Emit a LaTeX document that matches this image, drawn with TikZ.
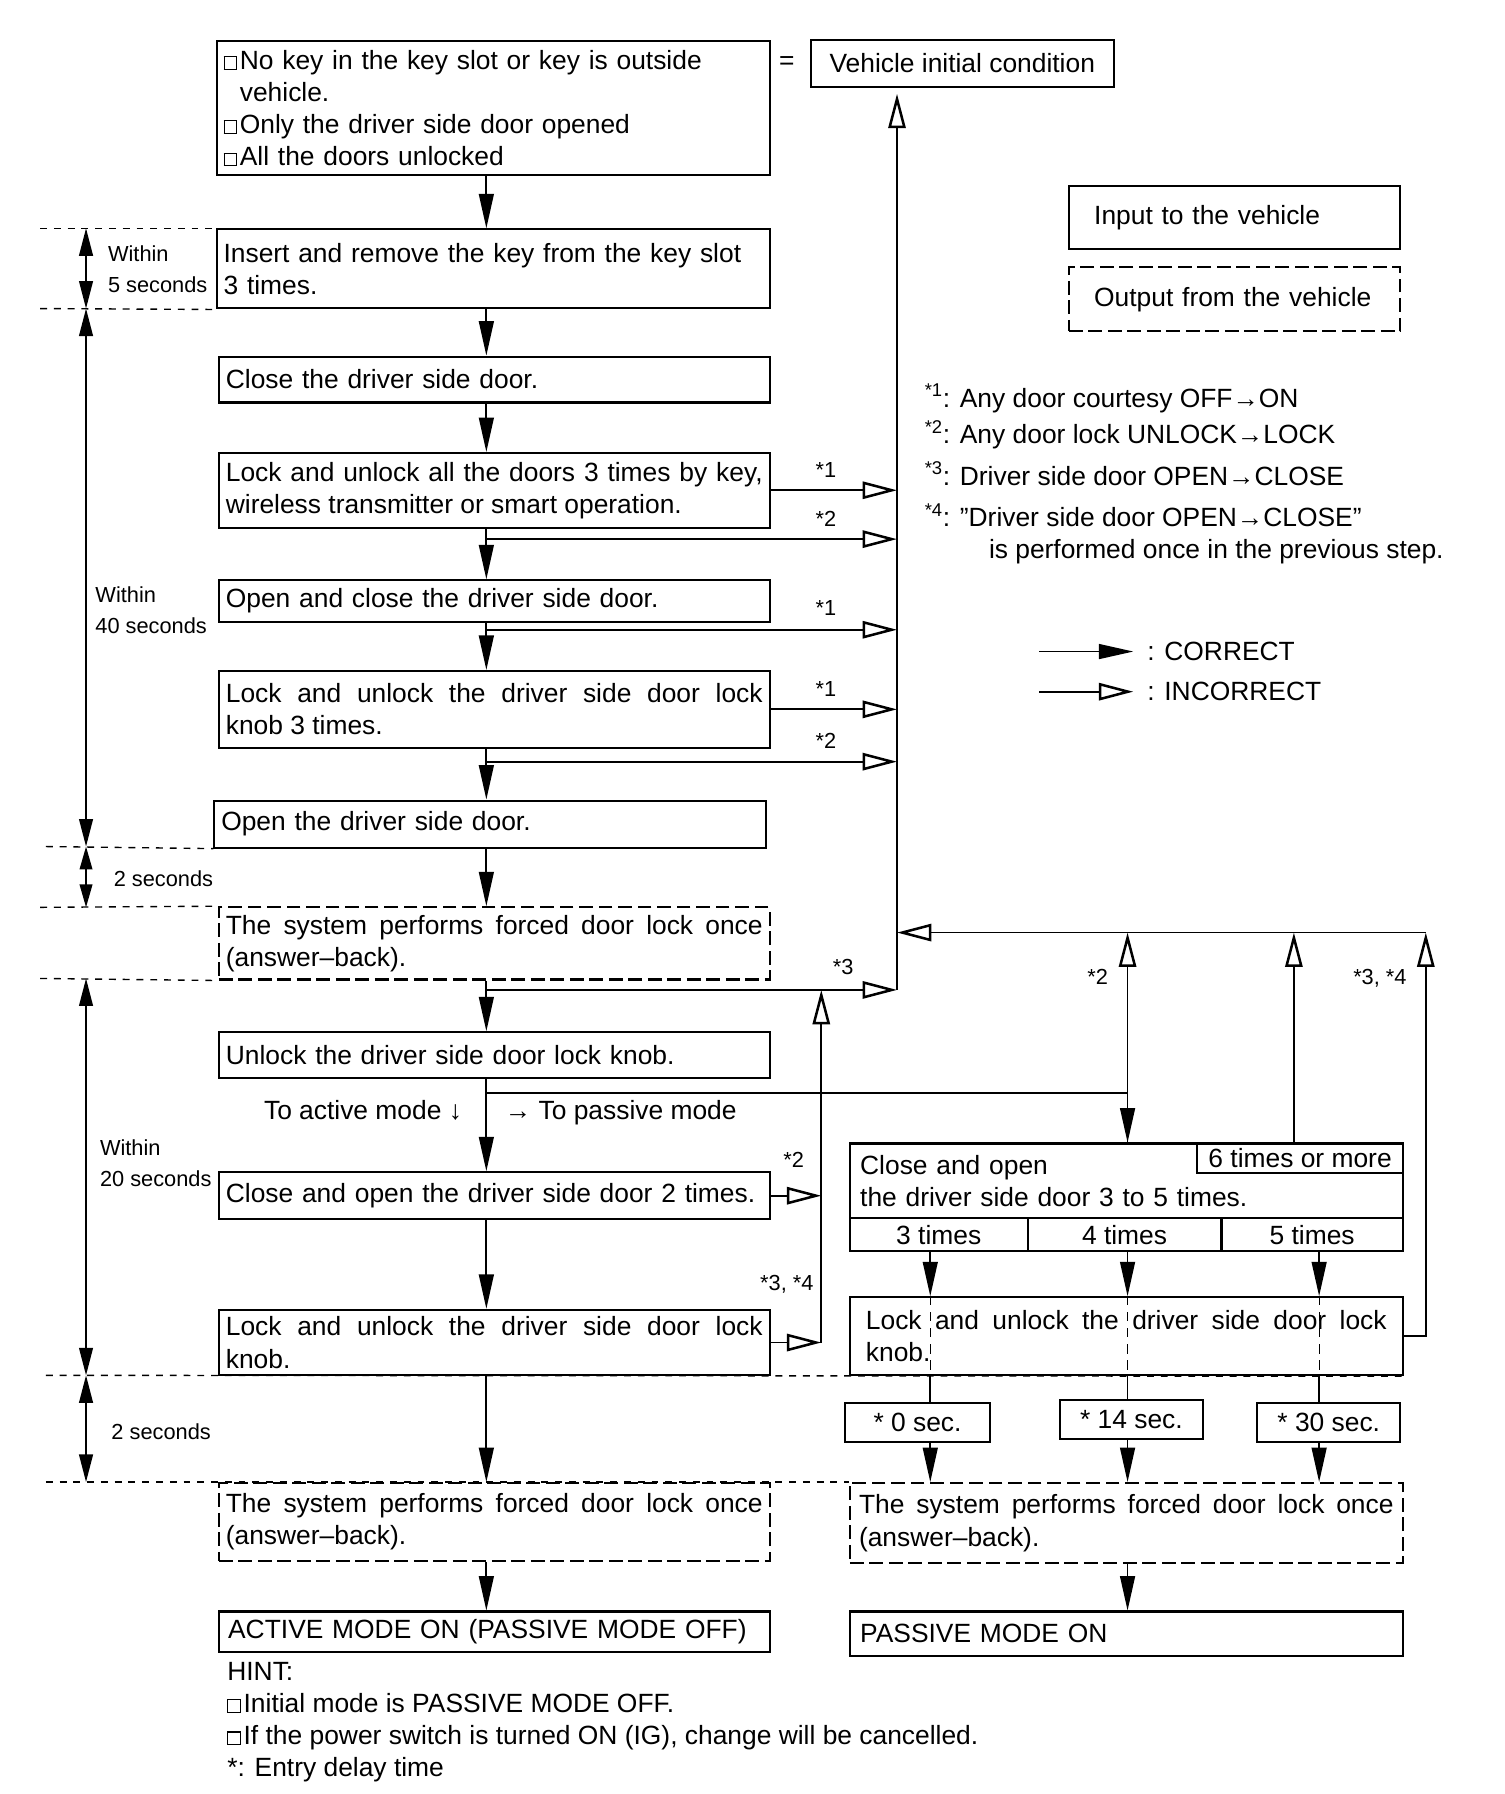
\documentclass[tikz,border=0pt]{standalone}
\usepackage{fontspec}
\setmainfont{Liberation Sans}
\usetikzlibrary{arrows.meta,calc}
\newcommand\fs{\fontsize{23}{28}\selectfont}
\newcommand\fsm{\fontsize{19}{22}\selectfont}
\newcommand\sqb{\raisebox{0.5pt}{\setlength{\fboxsep}{0pt}\setlength{\fboxrule}{0.9pt}\fbox{\rule{0pt}{0.44em}\hspace{0.44em}}}\hspace{0.1em}}
\begin{document}
\begin{tikzpicture}[x=1pt,y=-1pt,
 bx/.style={draw, line width=1.8pt, anchor=north west, inner xsep=6pt, inner ysep=0pt, font=\fs, align=left},
 dbx/.style={bx, dash pattern=on 12pt off 5pt},
 jbx/.style={bx, align=justify},
 cbx/.style={draw, line width=1.8pt, anchor=north west, inner sep=0pt, font=\fs, align=center},
 ln/.style={line width=1.5pt},
 fl/.style={ln, -{Triangle[length=30pt,width=13pt]}},
 oa/.style={ln, -{Triangle[open,length=30pt,width=15pt,line width=2.2pt]}},
 darr/.style={line width=1.6pt, {Triangle[length=24pt,width=12pt]}-{Triangle[length=24pt,width=12pt]}},
 sdarr/.style={line width=1.6pt, {Triangle[length=20pt,width=11pt]}-{Triangle[length=20pt,width=11pt]}},
 guide/.style={line width=1.2pt, dash pattern=on 6pt off 6pt},
 idash/.style={line width=1pt, dash pattern=on 8pt off 6pt},
 lbl/.style={font=\fsm, inner sep=0pt},
 txt/.style={font=\fs, inner sep=0pt, anchor=base west},
 stxt/.style={font=\fsm, inner sep=0pt, anchor=base west},
]
\fill[white] (0,0) rectangle (1311.3,1564);
\useasboundingbox (0,0) rectangle (1311.3,1564);

% columns
\coordinate (m) at (424,0);
\coordinate (c7) at (782,0);
\coordinate (c6) at (716,0);
\coordinate (q1) at (811,0);
\coordinate (q2) at (983,0);
\coordinate (q3) at (1150,0);
\coordinate (q4) at (1128,0);
\coordinate (q5) at (1243,0);

% left column boxes
\node[bx, text width=470pt, minimum height=117pt] (A) at (188,35) {\sqb No key in the key slot or key is outside\\\hphantom{\sqb}vehicle.\\\sqb Only the driver side door opened\\\sqb All the doors unlocked};
\node[cbx, minimum width=264pt, minimum height=41pt] (V) at (706,34) {Vehicle initial condition};
\node[font=\fs, inner sep=0pt] (eq) at (686,55) {=};

\node[bx, text width=470pt, minimum height=69pt] (B) at (188,199) {Insert and remove the key from the key slot\\3 times.};
\node[bx, text width=468pt, minimum height=40pt] (C) at (190,310) {Close the driver side door.};
\node[jbx, text width=468pt, minimum height=65pt] (D) at (190,394) {Lock and unlock all the doors 3 times by key,\linebreak wireless transmitter or smart operation.};
\node[bx, text width=468pt, minimum height=36pt] (E) at (190,505) {Open and close the driver side door.};
\node[jbx, text width=468pt, minimum height=67pt] (F) at (190,584) {Lock and unlock the driver side door lock\linebreak knob 3 times.};
\node[bx, text width=469pt, minimum height=41pt] (G) at (186,697) {Open the driver side door.};
\node[dbx, align=justify, text width=468pt, minimum height=63pt] (H) at (190,790) {The system performs forced door lock once\linebreak (answer–back).};
\node[bx, text width=468pt, minimum height=40pt] (I) at (190,899) {Unlock the driver side door lock knob.};
\node[bx, text width=468pt, minimum height=41pt] (J) at (190,1021) {Close and open the driver side door 2 times.};
\node[jbx, text width=468pt, minimum height=57pt] (K) at (190,1141) {Lock and unlock the driver side door lock\linebreak knob.};
\node[dbx, align=justify, text width=468pt, minimum height=68pt] (L) at (190,1292) {The system performs forced door lock once\linebreak (answer–back).};
\node[bx, inner xsep=8pt, text width=464pt, minimum height=35pt] (M) at (190,1404) {ACTIVE MODE ON (PASSIVE MODE OFF)};

% right column
\node[bx, inner xsep=9pt, text width=464pt, minimum height=65pt] (P1) at (740,996) {Close and open\\the driver side door 3 to 5 times.};
\node[cbx, minimum width=179pt, minimum height=26pt] (six) at (1043,996) {6 times or more};
\node[cbx, minimum width=155pt, minimum height=29pt] (r1) at (740,1061) {3 times};
\node[cbx, minimum width=169pt, minimum height=29pt] (r2) at (895,1061) {4 times};
\node[cbx, minimum width=158pt, minimum height=29pt] (r3) at (1064,1061) {5 times};
\node[jbx, inner xsep=14pt, text width=454pt, minimum height=68pt] (P2) at (740,1130) {Lock and unlock the driver side door lock\linebreak knob.};
\node[cbx, minimum width=126pt, minimum height=34pt] (s1) at (736,1222) {* 0 sec.};
\node[cbx, minimum width=125pt, minimum height=34pt] (s2) at (923,1220) {* 14 sec.};
\node[cbx, minimum width=125pt, minimum height=34pt] (s3) at (1095,1222) {* 30 sec.};
\node[dbx, align=justify, inner xsep=8pt, text width=466pt, minimum height=70pt] (P3) at (740,1292) {The system performs forced door lock once\linebreak (answer–back).};
\node[bx, inner xsep=9pt, text width=464pt, minimum height=39pt] (P4) at (740,1404) {PASSIVE MODE ON};

% legend boxes
\node[bx, inner xsep=22pt, text width=245pt, minimum height=55pt] (in) at (931,161) {Input to the vehicle};
\node[dbx, inner xsep=22pt, text width=245pt, minimum height=56pt] (out) at (931,232) {Output from the vehicle};

% footnotes
\node[txt] (f1) at (806,355) {\textsuperscript{*1}: Any door courtesy OFF→ON};
\node[txt] (f2) at (806,387) {\textsuperscript{*2}: Any door lock UNLOCK→LOCK};
\node[txt] (f3) at (806,423) {\textsuperscript{*3}: Driver side door OPEN→CLOSE};
\node[txt] (f4) at (806,459) {\textsuperscript{*4}: "Driver side door OPEN→CLOSE”};
\node[txt] (f5) at (862,487) {is performed once in the previous step.};

% legend arrows
\coordinate (la1) at (906,568); \coordinate (lb1) at (988,568);
\draw[fl] (la1) -- (lb1);
\node[txt] (cor) at (1000,576) {: CORRECT};
\coordinate (la2) at (906,603); \coordinate (lb2) at (988,603);
\draw[oa] (la2) -- (lb2);
\node[txt] (inc) at (1000,611) {: INCORRECT};

% main flow
\draw[fl] (A.south -| m) -- (B.north -| m);
\draw[fl] (B.south -| m) -- (C.north -| m);
\draw[fl] (C.south -| m) -- (D.north -| m);
\draw[fl] (D.south -| m) -- (E.north -| m);
\draw[fl] (E.south -| m) -- (F.north -| m);
\draw[fl] (F.south -| m) -- (G.north -| m);
\draw[fl] (G.south -| m) -- (H.north -| m);
\draw[fl] (H.south -| m) -- (I.north -| m);
\draw[fl] (I.south -| m) -- (J.north -| m);
\draw[fl] (J.south -| m) -- (K.north -| m);
\draw[fl] (K.south -| m) -- (L.north -| m);
\draw[fl] (L.south -| m) -- (M.north -| m);

% branch points
\coordinate (b1) at (424,470);
\coordinate (b2) at (424,549);
\coordinate (b3) at (424,664);
\coordinate (b4) at (424,863);
\coordinate (b5) at (424,953);
\coordinate (rt) at (1243,813);

% incorrect branches to the initial condition
\draw[oa] (D.east) -- (D.east -| c7);
\draw[oa] (b1) -- (b1 -| c7);
\draw[oa] (b2) -- (b2 -| c7);
\draw[oa] (F.east) -- (F.east -| c7);
\draw[oa] (b3) -- (b3 -| c7);
\draw[oa] (b4) -- (b4 -| c7);
\draw[oa, shorten >=5pt] (b4 -| c7) -- (V.south -| c7);
\draw[oa] (K.east -| c6) -- (b4 -| c6);
\draw[oa] (J.east) -- (J.east -| c6);
\draw[oa] (K.east) -- (K.east -| c6);

% return line from passive side
\draw[oa] (rt) -- (rt -| c7);
\draw[oa] (P2.east) -- (P2.east -| q5) -- (rt);
\draw[oa] (six.north -| q4) -- (rt -| q4);
\draw[oa] (P1.north -| q2) -- (rt -| q2);
\draw[fl] (b5) -- (b5 -| q2) -- (P1.north -| q2);

% passive flow
\draw[fl] (r1.south -| q1) -- (P2.north -| q1);
\draw[fl] (r2.south -| q2) -- (P2.north -| q2);
\draw[fl] (r3.south -| q3) -- (P2.north -| q3);
\draw[idash] (P2.north -| q1) -- (P2.south -| q1);
\draw[idash] (P2.north -| q2) -- (P2.south -| q2);
\draw[idash] (P2.north -| q3) -- (P2.south -| q3);
\draw[ln] (P2.south -| q1) -- (s1.north -| q1);
\draw[ln] (P2.south -| q2) -- (s2.north -| q2);
\draw[ln] (P2.south -| q3) -- (s3.north -| q3);
\draw[fl] (s1.south -| q1) -- (P3.north -| q1);
\draw[fl] (s2.south -| q2) -- (P3.north -| q2);
\draw[fl] (s3.south -| q3) -- (P3.north -| q3);
\draw[fl] (P3.south -| q2) -- (P4.north -| q2);

% connector labels
\node[lbl] (k1) at (720,410) {*1};
\node[lbl] (k2) at (720,452) {*2};
\node[lbl] (k3) at (720,530) {*1};
\node[lbl] (k4) at (720,601) {*1};
\node[lbl] (k5) at (720,646) {*2};
\node[lbl] (k6) at (735,843) {*3};
\node[lbl] (k7) at (692,1011) {*2};
\node[lbl] (k8) at (686,1120) {*3, *4};
\node[lbl] (k9) at (957,852) {*2};
\node[lbl] (k10) at (1203,853) {*3, *4};

\node[txt] (act) at (230,976) {To active mode ↓};
\node[txt] (pas) at (440,976) {→ To passive mode};

% timing guides
\coordinate (g1) at (35,199);
\coordinate (g2) at (35,269);
\coordinate (g3) at (40,738);
\coordinate (g4) at (35,791);
\coordinate (g5) at (35,853);
\coordinate (g6) at (40,1199);
\coordinate (g7) at (40,1292);
\draw[guide] (g1) -- (B.north west);
\draw[guide] (g2) -- (B.south west);
\draw[guide] (g3) -- (G.south west);
\draw[guide] (g4) -- (H.north west);
\draw[guide] (g5) -- (H.south west);
\draw[guide] (g6) -- (P2.south east);
\draw[guide] (g7) -- (P3.north west);

\coordinate (t1) at (75,199);
\coordinate (t2) at (75,269);
\coordinate (t3) at (75,738);
\coordinate (t4) at (75,791);
\coordinate (t5) at (75,853);
\coordinate (t6) at (75,1199);
\coordinate (t7) at (75,1292);
\draw[darr] (t1) -- (t2);
\draw[darr] (t2) -- (t3);
\draw[sdarr] (t3) -- (t4);
\draw[darr] (t5) -- (t6);
\draw[darr] (t6) -- (t7);

\node[stxt] (w1) at (94,228) {Within};
\node[stxt] (w2) at (94,255) {5 seconds};
\node[stxt] (w3) at (83,525) {Within};
\node[stxt] (w4) at (83,552) {40 seconds};
\node[stxt] (w5) at (99,773) {2 seconds};
\node[stxt] (w6) at (87,1007) {Within};
\node[stxt] (w7) at (87,1034) {20 seconds};
\node[stxt] (w8) at (97,1255) {2 seconds};

% hint
\node[txt] (h0) at (198,1465) {HINT:};
\node[txt] (h1) at (198,1493) {\sqb Initial mode is PASSIVE MODE OFF.};
\node[txt] (h2) at (198,1521) {\sqb If the power switch is turned ON (IG), change will be cancelled.};
\node[txt] (h3) at (198,1549) {*: Entry delay time};
\end{tikzpicture}
\end{document}
